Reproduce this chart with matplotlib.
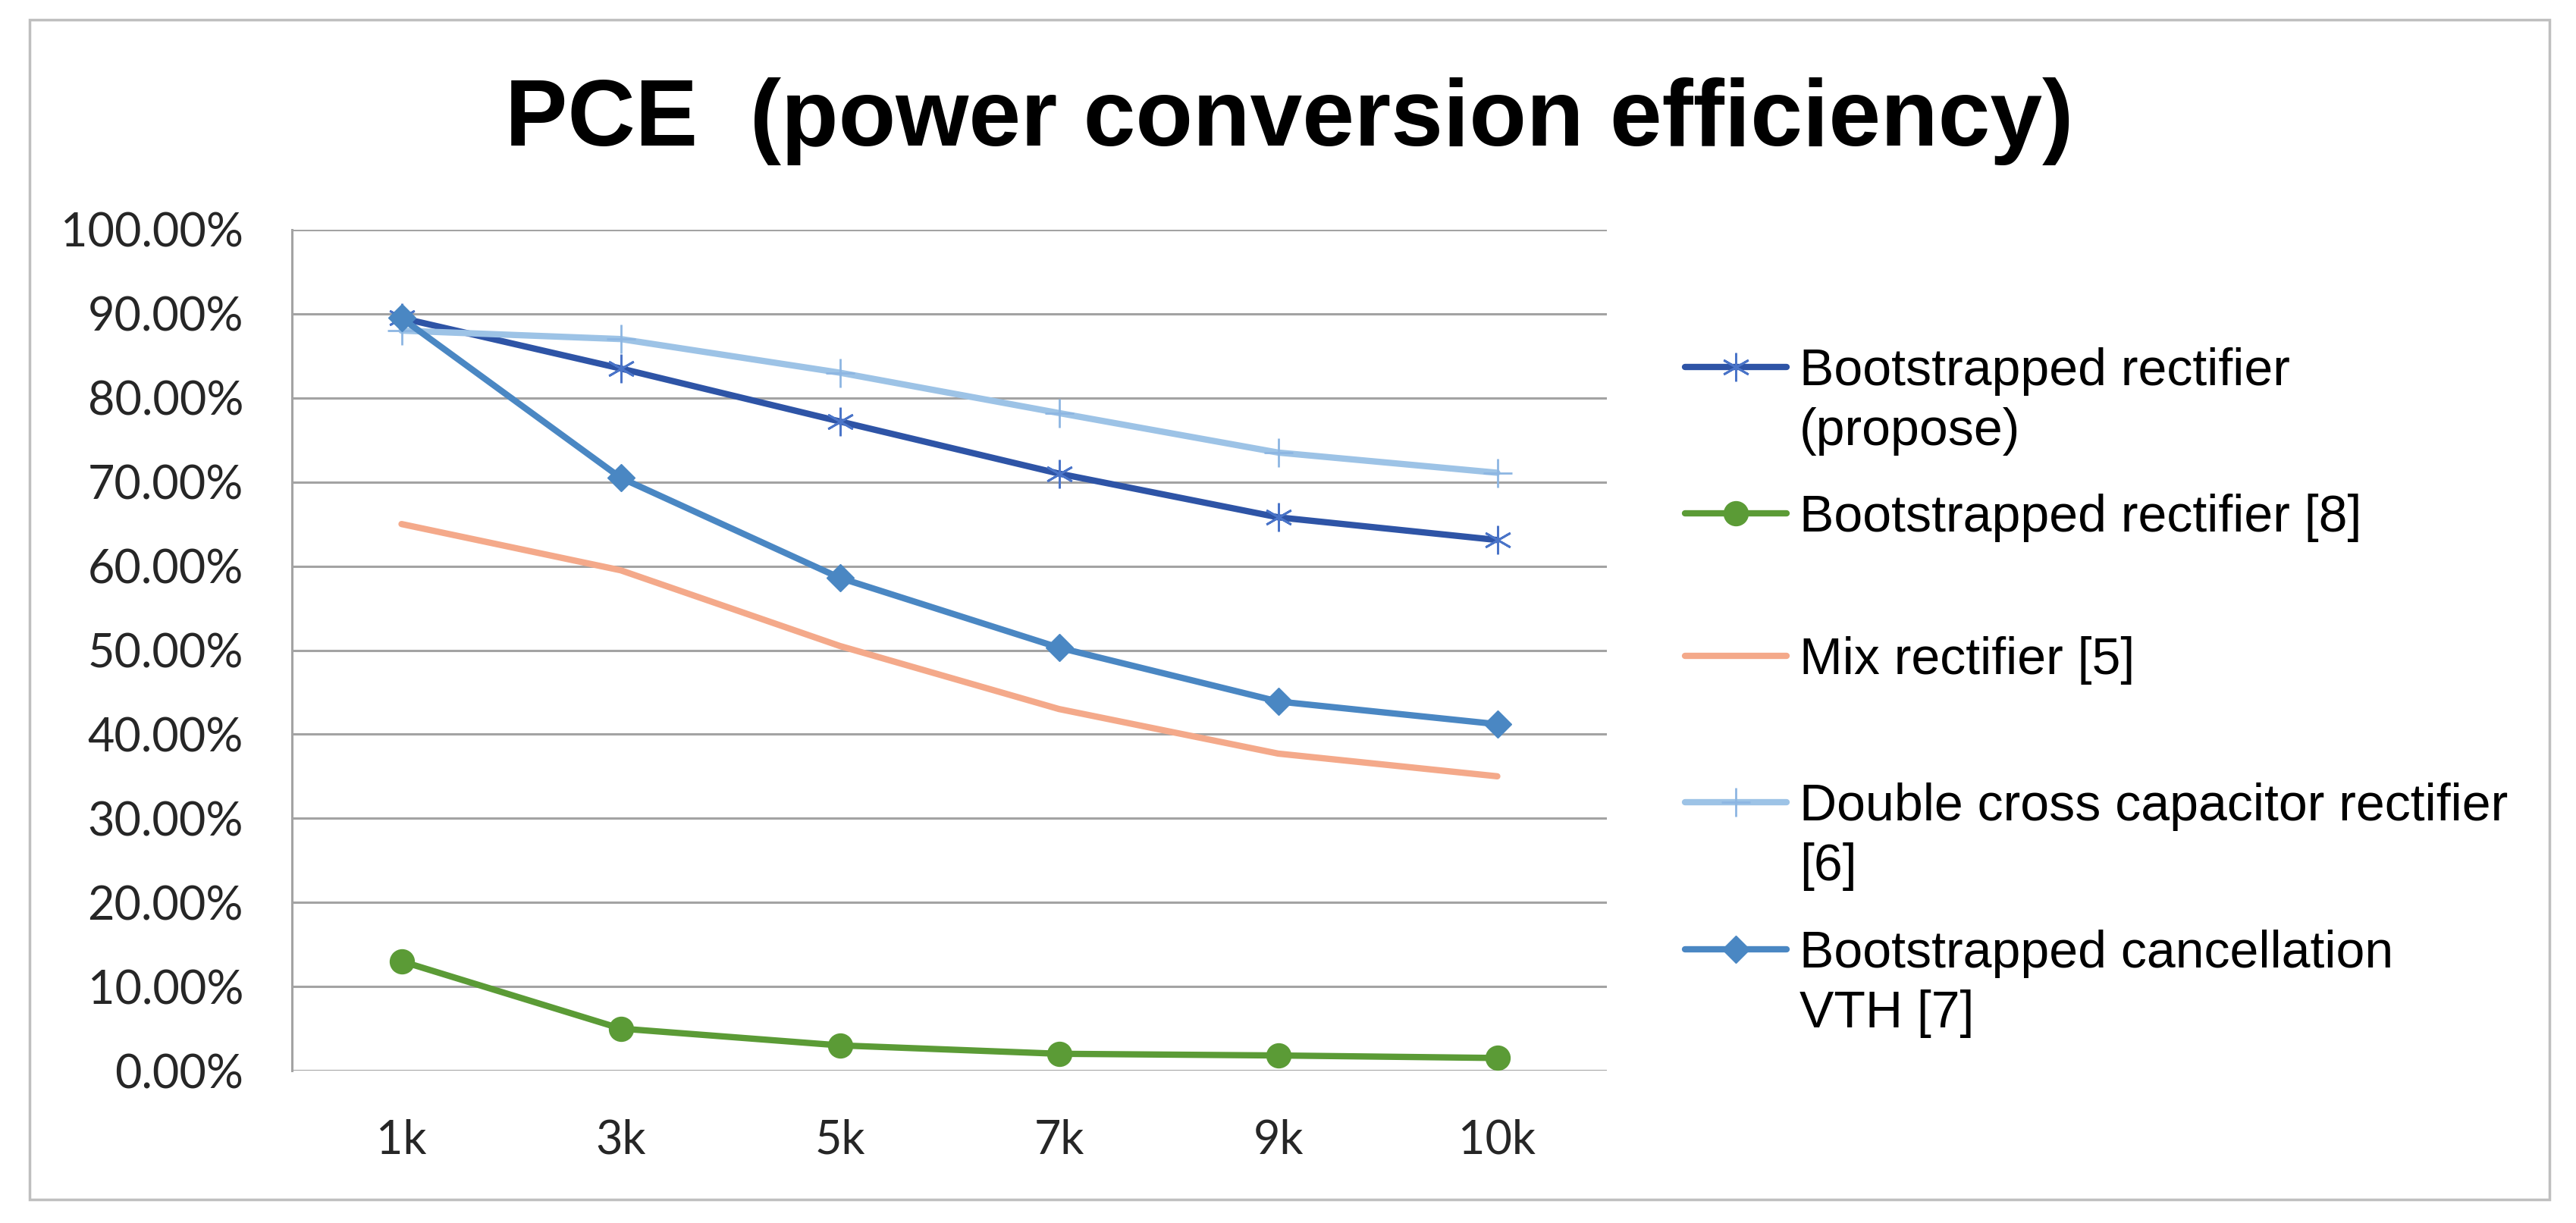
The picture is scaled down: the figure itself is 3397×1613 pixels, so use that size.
import matplotlib
matplotlib.use('Agg')
import matplotlib.pyplot as plt
import matplotlib.patches as patches

# data
categories = ["1k", "3k", "5k", "7k", "9k", "10k"]
propose = [0.895, 0.835, 0.772, 0.710, 0.658, 0.631]
boot8 = [0.130, 0.050, 0.030, 0.020, 0.018, 0.015]
mix5 = [0.650, 0.595, 0.505, 0.430, 0.377, 0.350]
double6 = [0.880, 0.870, 0.830, 0.782, 0.735, 0.711]
vth7 = [0.895, 0.705, 0.586, 0.503, 0.439, 0.412]
y_ticks = [0.0, 0.1, 0.2, 0.3, 0.4, 0.5, 0.6, 0.7, 0.8, 0.9, 1.0]

W, H = 3397, 1613
fig = plt.figure(figsize=(W / 100, H / 100), dpi=100)

# overlay in pixel coords for border, title and legend
ov = fig.add_axes([0, 0, 1, 1])
ov.set_xlim(0, W)
ov.set_ylim(H, 0)
ov.axis('off')
ov.add_patch(patches.Rectangle((39, 26), 3323, 1556, fill=False, edgecolor='#BFBFBF', lw=2.5))
ov.text(1700, 160, "PCE  (power conversion efficiency)", ha='center', va='center',
        fontsize=89, fontweight='bold', family='Liberation Sans', color='#000000')

ax = fig.add_axes([385 / W, 201 / H, (2119 - 385) / W, (1412 - 303) / H])
x = list(range(len(categories)))

series = [
    ("Bootstrapped rectifier\n(propose)", propose, '#2E54A6', dict(marker=(6, 2, 0), markersize=27, markeredgecolor='#4A74C8', markeredgewidth=2)),
    ("Bootstrapped rectifier [8]", boot8, '#5B9B36', dict(marker='o', markersize=23, markeredgecolor='#5B9B36')),
    ("Mix rectifier [5]", mix5, '#F4A98A', dict(marker=None)),
    ("Double cross capacitor rectifier\n[6]", double6, '#9DC3E6', dict(marker='+', markersize=27, markeredgecolor='#8DB6E2', markeredgewidth=2)),
    ("Bootstrapped cancellation\nVTH [7]", vth7, '#4A87C3', dict(marker='D', markersize=18, markeredgecolor='#4A87C3')),
]

for label, vals, col, mk in series:
    ax.plot(x, vals, color=col, lw=6, solid_capstyle='round', **mk)

ax.set_xlim(-0.5, len(categories) - 0.5)
ax.set_ylim(0, 1.0)
ax.set_yticks(y_ticks)
ax.set_yticklabels([f"{v * 100:.2f}%" for v in y_ticks])
ax.set_xticks(x)
ax.set_xticklabels(categories)
ax.tick_params(axis='y', length=0, pad=46, labelsize=44, labelcolor='#262626')
ax.tick_params(axis='x', length=0, pad=46, labelsize=44, labelcolor='#262626')
for lbl in ax.get_xticklabels() + ax.get_yticklabels():
    lbl.set_family('Lato')
ax.grid(axis='y', color='#A3A3A3', lw=2.2)
ax.set_axisbelow(True)
for s in ['top', 'right', 'bottom']:
    ax.spines[s].set_visible(False)
ax.spines['left'].set_color('#A3A3A3')
ax.spines['left'].set_linewidth(2.2)

# legend, drawn by hand so the handle sits on the first text line
leg_y = [484, 677, 865, 1058, 1252]
for (label, vals, col, mk), yy in zip(series, leg_y):
    ov.plot([2222, 2356], [yy, yy], color=col, lw=6, solid_capstyle='round')
    if mk.get('marker') is not None:
        ov.plot([2289], [yy], color=col, lw=0, **mk)
    for i, line in enumerate(label.split('\n')):
        ov.text(2373, yy + 24 + i * 79, line, ha='left', va='baseline', fontsize=49,
                family='Liberation Sans', color='#000000')

plt.savefig('out.png', dpi=100)
